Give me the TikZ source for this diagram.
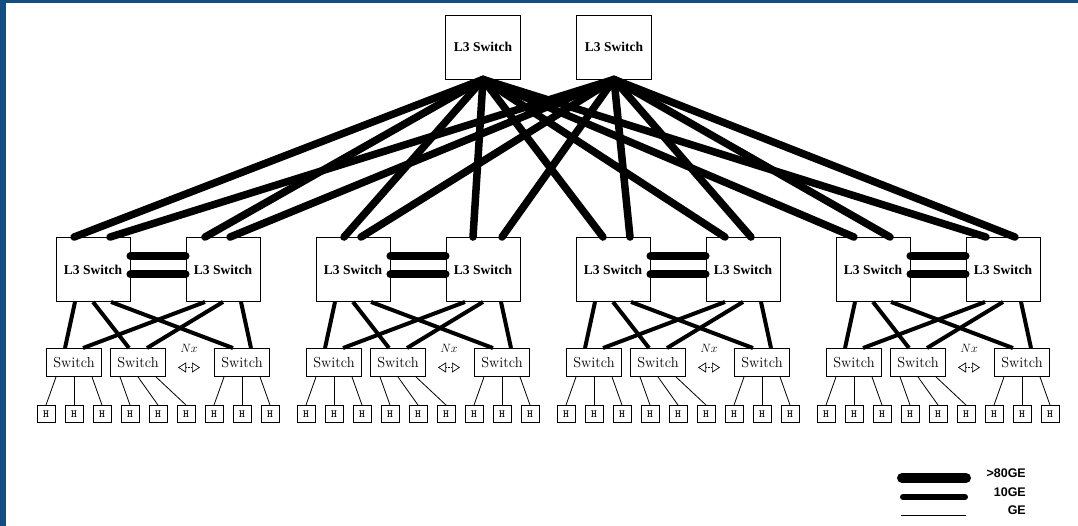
\documentclass[tikz,border=0pt]{standalone}
\usepackage{fontspec}
\newfontfamily\timesfont{Liberation Serif}
\newfontfamily\arialfont{Liberation Sans}
\usepackage{tikz}
\usetikzlibrary{arrows.meta}
\definecolor{frameblue}{RGB}{18,78,130}
\pgfdeclarelayer{edgelayer}
\pgfdeclarelayer{nodelayer}
\pgfsetlayers{edgelayer,nodelayer,main}
\tikzstyle{none}=[inner sep=0pt]
\tikzstyle{core}=[rectangle,draw=black,line width=0.9,minimum width=75,minimum height=64,inner sep=0,font=\timesfont\bfseries\fontsize{13.5}{14}\selectfont]
\tikzstyle{agg}=[rectangle,draw=black,line width=0.9,minimum width=74,minimum height=64,inner sep=0,font=\timesfont\bfseries\fontsize{13.5}{14}\selectfont]
\tikzstyle{tor}=[rectangle,draw=black,line width=0.9,minimum width=55,minimum height=28,inner sep=0,font=\fontsize{14.5}{15}\selectfont]
\tikzstyle{host}=[rectangle,draw=black,line width=0.9,minimum width=18,minimum height=17,inner sep=0,font=\ttfamily\bfseries\fontsize{11}{11}\selectfont]
\tikzstyle{tag}=[inner sep=0,font=\fontsize{12}{12}\selectfont]
\tikzstyle{legtext}=[anchor=east,inner sep=0,font=\arialfont\bfseries\fontsize{12.5}{13}\selectfont]
\tikzstyle{corelink}=[-,line width=7.5,line cap=round]
\tikzstyle{trunk}=[-,line width=8,line cap=round]
\tikzstyle{uplink}=[-,line width=4]
\tikzstyle{hostlink}=[-,line width=0.8]
\tikzstyle{nxarrow}=[{Triangle[open,length=8pt,width=10pt]}-{Triangle[open,length=8pt,width=10pt]},densely dotted,line width=0.7]
\tikzstyle{legbig}=[-,line width=10,line cap=round]
\tikzstyle{legmid}=[-,line width=6,line cap=round]
\tikzstyle{legthin}=[-,line width=1]

\begin{document}
\begin{tikzpicture}[x=1pt,y=-1pt]
	\useasboundingbox (0,0) rectangle (1078,526);
	\fill [frameblue] (0,0) rectangle (1078,3);
	\fill [frameblue] (0,0) rectangle (6,526);
	\begin{pgfonlayer}{nodelayer}
		% core
		\node [style=core] (C1) at (483, 47) {L3 Switch};
		\node [style=core] (C2) at (614, 47) {L3 Switch};

		% aggregation pairs
		\node [style=agg] (A1) at (93, 269.5) {L3 Switch};
		\node [style=agg] (A2) at (223, 269.5) {L3 Switch};
		\node [style=agg] (A3) at (353, 269.5) {L3 Switch};
		\node [style=agg] (A4) at (483, 269.5) {L3 Switch};
		\node [style=agg] (A5) at (613, 269.5) {L3 Switch};
		\node [style=agg] (A6) at (743, 269.5) {L3 Switch};
		\node [style=agg] (A7) at (873, 269.5) {L3 Switch};
		\node [style=agg] (A8) at (1003, 269.5) {L3 Switch};

		% access switches
		\node [style=tor] (S1) at (74, 362.5) {Switch};
		\node [style=tor] (S2) at (138, 362.5) {Switch};
		\node [style=tor] (S3) at (242, 362.5) {Switch};
		\node [style=tor] (S4) at (334, 362.5) {Switch};
		\node [style=tor] (S5) at (398, 362.5) {Switch};
		\node [style=tor] (S6) at (502, 362.5) {Switch};
		\node [style=tor] (S7) at (594, 362.5) {Switch};
		\node [style=tor] (S8) at (658, 362.5) {Switch};
		\node [style=tor] (S9) at (762, 362.5) {Switch};
		\node [style=tor] (S10) at (854, 362.5) {Switch};
		\node [style=tor] (S11) at (918, 362.5) {Switch};
		\node [style=tor] (S12) at (1022, 362.5) {Switch};

		\node [style=tag] (N1) at (189, 348) {$Nx$};
		\node [style=none] (N1l) at (178, 367.5) {};
		\node [style=none] (N1r) at (200, 367.5) {};
		\node [style=tag] (N2) at (449, 348) {$Nx$};
		\node [style=none] (N2l) at (438, 367.5) {};
		\node [style=none] (N2r) at (460, 367.5) {};
		\node [style=tag] (N3) at (709, 348) {$Nx$};
		\node [style=none] (N3l) at (698, 367.5) {};
		\node [style=none] (N3r) at (720, 367.5) {};
		\node [style=tag] (N4) at (969, 348) {$Nx$};
		\node [style=none] (N4l) at (958, 367.5) {};
		\node [style=none] (N4r) at (980, 367.5) {};

		% hosts
		\node [style=host] (H1) at (46, 414) {H};
		\node [style=host] (H2) at (74, 414) {H};
		\node [style=host] (H3) at (102, 414) {H};
		\node [style=host] (H4) at (130, 414) {H};
		\node [style=host] (H5) at (158, 414) {H};
		\node [style=host] (H6) at (186, 414) {H};
		\node [style=host] (H7) at (214, 414) {H};
		\node [style=host] (H8) at (242, 414) {H};
		\node [style=host] (H9) at (270, 414) {H};
		\node [style=host] (H10) at (306, 414) {H};
		\node [style=host] (H11) at (334, 414) {H};
		\node [style=host] (H12) at (362, 414) {H};
		\node [style=host] (H13) at (390, 414) {H};
		\node [style=host] (H14) at (418, 414) {H};
		\node [style=host] (H15) at (446, 414) {H};
		\node [style=host] (H16) at (474, 414) {H};
		\node [style=host] (H17) at (502, 414) {H};
		\node [style=host] (H18) at (530, 414) {H};
		\node [style=host] (H19) at (566, 414) {H};
		\node [style=host] (H20) at (594, 414) {H};
		\node [style=host] (H21) at (622, 414) {H};
		\node [style=host] (H22) at (650, 414) {H};
		\node [style=host] (H23) at (678, 414) {H};
		\node [style=host] (H24) at (706, 414) {H};
		\node [style=host] (H25) at (734, 414) {H};
		\node [style=host] (H26) at (762, 414) {H};
		\node [style=host] (H27) at (790, 414) {H};
		\node [style=host] (H28) at (826, 414) {H};
		\node [style=host] (H29) at (854, 414) {H};
		\node [style=host] (H30) at (882, 414) {H};
		\node [style=host] (H31) at (910, 414) {H};
		\node [style=host] (H32) at (938, 414) {H};
		\node [style=host] (H33) at (966, 414) {H};
		\node [style=host] (H34) at (994, 414) {H};
		\node [style=host] (H35) at (1022, 414) {H};
		\node [style=host] (H36) at (1050, 414) {H};

		% legend
		\node [style=none] (K1l) at (902, 478) {};
		\node [style=none] (K1r) at (966, 478) {};
		\node [style=none] (K2l) at (903, 497) {};
		\node [style=none] (K2r) at (965, 497) {};
		\node [style=none] (K3l) at (901, 515) {};
		\node [style=none] (K3r) at (966, 515) {};
		\node [style=legtext] (T1) at (1026, 473) {>80GE};
		\node [style=legtext] (T2) at (1026, 492) {10GE};
		\node [style=legtext] (T3) at (1026, 510.5) {GE};
	\end{pgfonlayer}
	\begin{pgfonlayer}{edgelayer}
		% core to aggregation
		\draw [style=corelink] (C1.south) to ([xshift=-19pt]A1.north);
		\draw [style=corelink] (C2.south) to ([xshift=17pt]A1.north);
		\draw [style=corelink] (C1.south) to ([xshift=-18pt]A2.north);
		\draw [style=corelink] (C2.south) to ([xshift=7pt]A2.north);
		\draw [style=corelink] (C1.south) to ([xshift=-9pt]A3.north);
		\draw [style=corelink] (C2.south) to ([xshift=8pt]A3.north);
		\draw [style=corelink] (C1.south) to ([xshift=-10pt]A4.north);
		\draw [style=corelink] (C2.south) to ([xshift=19pt]A4.north);
		\draw [style=corelink] (C1.south) to ([xshift=-10pt]A5.north);
		\draw [style=corelink] (C2.south) to ([xshift=17pt]A5.north);
		\draw [style=corelink] (C1.south) to ([xshift=-18pt]A6.north);
		\draw [style=corelink] (C2.south) to ([xshift=8pt]A6.north);
		\draw [style=corelink] (C1.south) to ([xshift=-19pt]A7.north);
		\draw [style=corelink] (C2.south) to ([xshift=17pt]A7.north);
		\draw [style=corelink] (C1.south) to ([xshift=-17pt]A8.north);
		\draw [style=corelink] (C2.south) to ([xshift=12pt]A8.north);

		% pair trunks
		\draw [style=trunk] ([yshift=13.5pt]A1.east) to ([yshift=13.5pt]A2.west);
		\draw [style=trunk] ([yshift=-5pt]A1.east) to ([yshift=-5pt]A2.west);
		\draw [style=trunk] ([yshift=13.5pt]A3.east) to ([yshift=13.5pt]A4.west);
		\draw [style=trunk] ([yshift=-5pt]A3.east) to ([yshift=-5pt]A4.west);
		\draw [style=trunk] ([yshift=13.5pt]A5.east) to ([yshift=13.5pt]A6.west);
		\draw [style=trunk] ([yshift=-5pt]A5.east) to ([yshift=-5pt]A6.west);
		\draw [style=trunk] ([yshift=13.5pt]A7.east) to ([yshift=13.5pt]A8.west);
		\draw [style=trunk] ([yshift=-5pt]A7.east) to ([yshift=-5pt]A8.west);

		% aggregation to access
		\draw [style=uplink] ([xshift=-18pt]A1.south) to ([xshift=-9pt]S1.north);
		\draw [style=uplink] (A1.south) to ([xshift=-9pt]S2.north);
		\draw [style=uplink] ([xshift=18pt]A1.south) to ([xshift=-9pt]S3.north);
		\draw [style=uplink] ([xshift=-18pt]A2.south) to ([xshift=9pt]S1.north);
		\draw [style=uplink] (A2.south) to ([xshift=9pt]S2.north);
		\draw [style=uplink] ([xshift=18pt]A2.south) to ([xshift=9pt]S3.north);
		\draw [style=uplink] ([xshift=-18pt]A3.south) to ([xshift=-9pt]S4.north);
		\draw [style=uplink] (A3.south) to ([xshift=-9pt]S5.north);
		\draw [style=uplink] ([xshift=18pt]A3.south) to ([xshift=-9pt]S6.north);
		\draw [style=uplink] ([xshift=-18pt]A4.south) to ([xshift=9pt]S4.north);
		\draw [style=uplink] (A4.south) to ([xshift=9pt]S5.north);
		\draw [style=uplink] ([xshift=18pt]A4.south) to ([xshift=9pt]S6.north);
		\draw [style=uplink] ([xshift=-18pt]A5.south) to ([xshift=-9pt]S7.north);
		\draw [style=uplink] (A5.south) to ([xshift=-9pt]S8.north);
		\draw [style=uplink] ([xshift=18pt]A5.south) to ([xshift=-9pt]S9.north);
		\draw [style=uplink] ([xshift=-18pt]A6.south) to ([xshift=9pt]S7.north);
		\draw [style=uplink] (A6.south) to ([xshift=9pt]S8.north);
		\draw [style=uplink] ([xshift=18pt]A6.south) to ([xshift=9pt]S9.north);
		\draw [style=uplink] ([xshift=-18pt]A7.south) to ([xshift=-9pt]S10.north);
		\draw [style=uplink] (A7.south) to ([xshift=-9pt]S11.north);
		\draw [style=uplink] ([xshift=18pt]A7.south) to ([xshift=-9pt]S12.north);
		\draw [style=uplink] ([xshift=-18pt]A8.south) to ([xshift=9pt]S10.north);
		\draw [style=uplink] (A8.south) to ([xshift=9pt]S11.north);
		\draw [style=uplink] ([xshift=18pt]A8.south) to ([xshift=9pt]S12.north);

		% access to hosts
		\draw [style=hostlink] ([xshift=-18pt]S1.south) to (H1.north);
		\draw [style=hostlink] (S1.south) to (H2.north);
		\draw [style=hostlink] ([xshift=18pt]S1.south) to (H3.north);
		\draw [style=hostlink] ([xshift=-18pt]S2.south) to (H4.north);
		\draw [style=hostlink] (S2.south) to (H5.north);
		\draw [style=hostlink] ([xshift=18pt]S2.south) to (H6.north);
		\draw [style=hostlink] ([xshift=-18pt]S3.south) to (H7.north);
		\draw [style=hostlink] (S3.south) to (H8.north);
		\draw [style=hostlink] ([xshift=18pt]S3.south) to (H9.north);
		\draw [style=hostlink] ([xshift=-18pt]S4.south) to (H10.north);
		\draw [style=hostlink] (S4.south) to (H11.north);
		\draw [style=hostlink] ([xshift=18pt]S4.south) to (H12.north);
		\draw [style=hostlink] ([xshift=-18pt]S5.south) to (H13.north);
		\draw [style=hostlink] (S5.south) to (H14.north);
		\draw [style=hostlink] ([xshift=18pt]S5.south) to (H15.north);
		\draw [style=hostlink] ([xshift=-18pt]S6.south) to (H16.north);
		\draw [style=hostlink] (S6.south) to (H17.north);
		\draw [style=hostlink] ([xshift=18pt]S6.south) to (H18.north);
		\draw [style=hostlink] ([xshift=-18pt]S7.south) to (H19.north);
		\draw [style=hostlink] (S7.south) to (H20.north);
		\draw [style=hostlink] ([xshift=18pt]S7.south) to (H21.north);
		\draw [style=hostlink] ([xshift=-18pt]S8.south) to (H22.north);
		\draw [style=hostlink] (S8.south) to (H23.north);
		\draw [style=hostlink] ([xshift=18pt]S8.south) to (H24.north);
		\draw [style=hostlink] ([xshift=-18pt]S9.south) to (H25.north);
		\draw [style=hostlink] (S9.south) to (H26.north);
		\draw [style=hostlink] ([xshift=18pt]S9.south) to (H27.north);
		\draw [style=hostlink] ([xshift=-18pt]S10.south) to (H28.north);
		\draw [style=hostlink] (S10.south) to (H29.north);
		\draw [style=hostlink] ([xshift=18pt]S10.south) to (H30.north);
		\draw [style=hostlink] ([xshift=-18pt]S11.south) to (H31.north);
		\draw [style=hostlink] (S11.south) to (H32.north);
		\draw [style=hostlink] ([xshift=18pt]S11.south) to (H33.north);
		\draw [style=hostlink] ([xshift=-18pt]S12.south) to (H34.north);
		\draw [style=hostlink] (S12.south) to (H35.north);
		\draw [style=hostlink] ([xshift=18pt]S12.south) to (H36.north);

		% Nx markers
		\draw [style=nxarrow] (N1l.center) to (N1r.center);
		\draw [style=nxarrow] (N2l.center) to (N2r.center);
		\draw [style=nxarrow] (N3l.center) to (N3r.center);
		\draw [style=nxarrow] (N4l.center) to (N4r.center);

		% legend
		\draw [style=legbig] (K1l.center) to (K1r.center);
		\draw [style=legmid] (K2l.center) to (K2r.center);
		\draw [style=legthin] (K3l.center) to (K3r.center);
	\end{pgfonlayer}
\end{tikzpicture}
\end{document}
